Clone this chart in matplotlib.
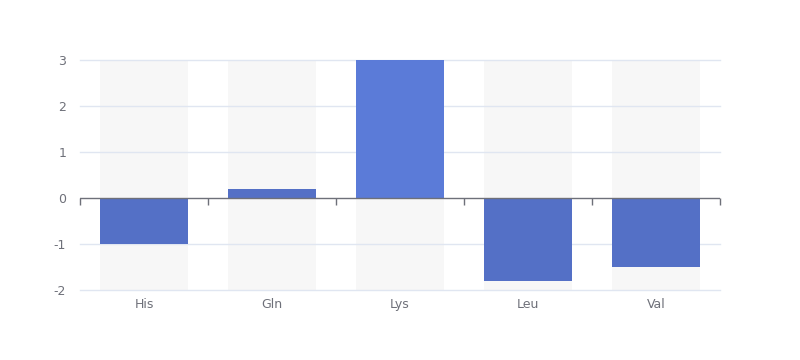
import numpy as np
import matplotlib.pyplot as plt

categories = ['His', 'Gln', 'Lys', 'Leu', 'Val']
values = [-1, 0.2, 3, -1.8, -1.5]
bar_colors = ['#5470c6', '#5470c6', '#5b7bd8', '#5470c6', '#5470c6']

ymin, ymax = -2, 3
x = np.arange(len(categories))

plt.rcParams['axes.unicode_minus'] = False

fig = plt.figure(figsize=(8, 3.6), dpi=100)
ax = fig.add_axes([0.1, 70 / 360, 0.8, 230 / 360])

# background bars
ax.bar(x, [ymax - ymin] * len(x), bottom=ymin, width=0.6875, color='#f7f7f7', zorder=1)
# grid lines over the background
for yv in range(ymin, ymax + 1):
    if yv != 0:
        ax.axhline(yv, color='#e0e6f1', linewidth=1, zorder=2, clip_on=False)
ax.bar(x, values, width=0.6875, color=bar_colors, zorder=3)

ax.set_xlim(-0.5, len(x) - 0.5)
ax.set_ylim(ymin, ymax)
ax.set_yticks(range(ymin, ymax + 1))
ax.axhline(0, color='#6e7079', linewidth=1, zorder=4)

for s in ax.spines.values():
    s.set_visible(False)

ax.set_xticks(x)
ax.set_xticklabels(categories)
ax.tick_params(axis='x', length=0, pad=6, labelcolor='#6e7079', labelsize=9)
ax.tick_params(axis='y', length=0, pad=10, labelcolor='#6e7079', labelsize=9)

# ticks on the zero line at category boundaries
sec = ax.secondary_xaxis(-ymin / (ymax - ymin))
sec.spines['bottom'].set_visible(False)
sec.set_xticks(np.arange(len(x) + 1) - 0.5)
sec.set_xticklabels([])
sec.tick_params(axis='x', length=5, width=1, color='#6e7079', direction='out')

fig.savefig('out.png', dpi=100)
